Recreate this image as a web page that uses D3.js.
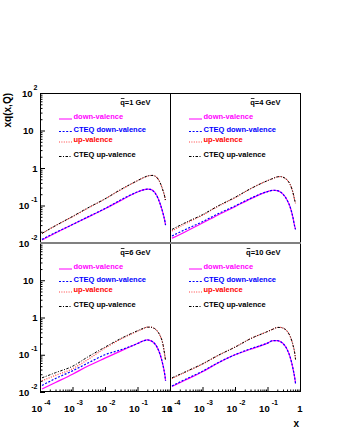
<!DOCTYPE html>
<html>
<head>
<meta charset="utf-8">
<script src="https://cdn.jsdelivr.net/npm/d3@7"></script>
<style>
body { margin: 0; background: #fff; }
text { font-family: "Liberation Sans", Arial, sans-serif; font-weight: bold; }
</style>
</head>
<body>
<svg id="chart" width="340" height="440"></svg>
<script>
// x grid the curves were read at
const xValues = [1.15e-4, 3e-4, 1e-3, 3e-3, 1e-2, 3e-2, 0.1, 0.15, 0.2, 0.25, 0.3, 0.4, 0.5, 0.6, 0.7, 0.73];

const seriesNames = ['down-valence', 'CTEQ down-valence', 'up-valence', 'CTEQ up-valence'];
const scaleLabels = ['1', '4', '6', '10'];

// q = 1 GeV
const downQ1 = [0.012, 0.0184, 0.031, 0.049, 0.082, 0.135, 0.23, 0.26, 0.275, 0.27, 0.25, 0.18, 0.11, 0.065, 0.037, 0.030];
const cteqDownQ1 = [0.0125, 0.019, 0.031, 0.05, 0.083, 0.14, 0.23, 0.26, 0.272, 0.268, 0.245, 0.175, 0.11, 0.065, 0.037, 0.030];
const upQ1 = [0.018, 0.029, 0.050, 0.085, 0.15, 0.26, 0.46, 0.55, 0.60, 0.63, 0.635, 0.55, 0.40, 0.26, 0.16, 0.13];
const cteqUpQ1 = [0.018, 0.029, 0.051, 0.087, 0.15, 0.265, 0.46, 0.55, 0.61, 0.635, 0.63, 0.55, 0.40, 0.26, 0.16, 0.13];

// q = 4 GeV
const downQ4 = [0.0134, 0.020, 0.034, 0.056, 0.093, 0.15, 0.235, 0.255, 0.25, 0.23, 0.2, 0.14, 0.09, 0.05, 0.026, 0.023];
const cteqDownQ4 = [0.0154, 0.023, 0.037, 0.06, 0.097, 0.155, 0.235, 0.255, 0.25, 0.23, 0.2, 0.14, 0.09, 0.05, 0.026, 0.023];
const upQ4 = [0.021, 0.033, 0.055, 0.095, 0.16, 0.28, 0.46, 0.53, 0.58, 0.59, 0.57, 0.48, 0.36, 0.23, 0.13, 0.115];
const cteqUpQ4 = [0.023, 0.035, 0.057, 0.097, 0.165, 0.28, 0.46, 0.53, 0.58, 0.59, 0.57, 0.48, 0.36, 0.23, 0.13, 0.115];

// q = 6 GeV
const downQ6 = [0.012, 0.018, 0.030, 0.05, 0.081, 0.125, 0.20, 0.235, 0.25, 0.24, 0.22, 0.16, 0.1, 0.055, 0.027, 0.02];
const cteqDownQ6 = [0.015, 0.023, 0.037, 0.06, 0.10, 0.135, 0.20, 0.235, 0.25, 0.24, 0.22, 0.16, 0.1, 0.055, 0.027, 0.02];
const upQ6 = [0.020, 0.028, 0.042, 0.075, 0.15, 0.26, 0.43, 0.50, 0.55, 0.55, 0.53, 0.44, 0.32, 0.2, 0.09, 0.07];
const cteqUpQ6 = [0.024, 0.033, 0.049, 0.088, 0.16, 0.27, 0.44, 0.51, 0.55, 0.55, 0.53, 0.44, 0.32, 0.2, 0.09, 0.07];

// q = 10 GeV
const downQ10 = [0.014, 0.021, 0.035, 0.06, 0.10, 0.14, 0.205, 0.24, 0.24, 0.225, 0.2, 0.14, 0.085, 0.045, 0.022, 0.017];
const cteqDownQ10 = [0.0145, 0.022, 0.036, 0.061, 0.10, 0.145, 0.205, 0.24, 0.24, 0.225, 0.2, 0.14, 0.085, 0.045, 0.022, 0.017];
const upQ10 = [0.023, 0.034, 0.056, 0.095, 0.16, 0.27, 0.42, 0.49, 0.54, 0.54, 0.52, 0.43, 0.31, 0.19, 0.10, 0.074];
const cteqUpQ10 = [0.024, 0.035, 0.057, 0.096, 0.16, 0.27, 0.42, 0.49, 0.54, 0.54, 0.52, 0.43, 0.31, 0.19, 0.10, 0.074];

const xTickExponents = [-4, -3, -2, -1, 0];
const yTickExponents = [-2, -1, 0, 1, 2];

// Line looks, same order as seriesNames.
const seriesStyles = [
    {color: '#ff00ff', text: '#ff00ff', dash: null, width: 1.2},
    {color: '#0000ff', text: '#0000ff', dash: '2,1.6', width: 1.2},
    {color: '#ff4040', text: '#ff0000', dash: '1,1.4', width: 1.2},
    {color: '#000000', text: '#000000', dash: '2.5,1.5,1,1.5', width: 1}
];

const panels = [
    {label: scaleLabels[0], col: 0, row: 0, series: [downQ1, cteqDownQ1, upQ1, cteqUpQ1]},
    {label: scaleLabels[1], col: 1, row: 0, series: [downQ4, cteqDownQ4, upQ4, cteqUpQ4]},
    {label: scaleLabels[2], col: 0, row: 1, series: [downQ6, cteqDownQ6, upQ6, cteqUpQ6]},
    {label: scaleLabels[3], col: 1, row: 1, series: [downQ10, cteqDownQ10, upQ10, cteqUpQ10]}
];

const panelLefts = [40, 170];
const panelTops = [93, 243];
const panelWidth = 130;
const panelHeights = [150, 149];

const svg = d3.select('#chart');
svg.append('rect').attr('width', 340).attr('height', 440).attr('fill', '#fff');

/**
 * Minor tick values (2..9 x 10^n) between two decades.
 */
function minorTicks(lo, hi) {
    const ticks = [];
    for (let e = lo; e < hi; e++) {
        for (let m = 2; m <= 9; m++) ticks.push(m * Math.pow(10, e));
    }
    return ticks;
}

/**
 * Write a 10^n tick label with the exponent as a raised tspan.
 */
function powerLabel(sel, e, supSize) {
    if (e === 0) {
        sel.text('1');
        return;
    }
    sel.append('tspan').text('10');
    if (e !== 1) {
        sel.append('tspan')
            .attr('dy', -7)
            .attr('dx', e < 0 ? 2 : 1)
            .attr('font-size', supSize)
            .text(String(e));
    }
}

/**
 * Draw one panel: curves, frame, legend, ticks and tick labels.
 */
function drawPanel(panel) {
    const left = panelLefts[panel.col];
    const top = panelTops[panel.row];
    const height = panelHeights[panel.row];
    const bottom = top + height;
    const right = left + panelWidth;

    const x = d3.scaleLog().domain([1e-4, 1]).range([left, right]);
    const y = d3.scaleLog().domain([1e-2, 1e2]).range([bottom, top]);

    const g = svg.append('g');

    const line = d3.line()
        .x(d => x(d[0]))
        .y(d => y(d[1]))
        .curve(d3.curveMonotoneX);

    panel.series.forEach(function(values, i) {
        const style = seriesStyles[i];
        g.append('path')
            .attr('d', line(xValues.map((xv, k) => [xv, values[k]])))
            .attr('fill', 'none')
            .attr('stroke', style.color)
            .attr('stroke-width', style.width)
            .attr('stroke-dasharray', style.dash);
    });

    // Frame
    g.append('rect')
        .attr('x', left + 0.5)
        .attr('y', top + 0.5)
        .attr('width', panelWidth)
        .attr('height', height - 1)
        .attr('fill', 'none')
        .attr('stroke', '#000')
        .attr('stroke-width', 1);

    // Scale label, with a bar over the q
    const title = g.append('text')
        .attr('x', right - 19.5)
        .attr('y', top + 12)
        .attr('text-anchor', 'end')
        .attr('font-size', 7.5)
        .text('q=' + panel.label + ' GeV');
    const tb = title.node().getBBox();
    const qWidth = title.node().getSubStringLength(0, 1);
    g.append('line')
        .attr('x1', tb.x + 0.6).attr('x2', tb.x + qWidth - 0.4)
        .attr('y1', top + 5.5).attr('y2', top + 5.5)
        .attr('stroke', '#000').attr('stroke-width', 0.8);

    // Legend
    const rowOffsets = [26, 38.5, 49, 63.5];
    seriesNames.forEach(function(name, i) {
        const style = seriesStyles[i];
        const ly = top + rowOffsets[i];
        g.append('line')
            .attr('x1', left + 19).attr('x2', left + 32)
            .attr('y1', ly).attr('y2', ly)
            .attr('stroke', style.color)
            .attr('stroke-width', 1)
            .attr('stroke-dasharray', style.dash);
        g.append('text')
            .attr('x', left + 33.5)
            .attr('y', ly)
            .attr('font-size', 7.5)
            .attr('fill', style.text)
            .text(name);
    });

    // Left axis ticks and labels (left column only)
    if (panel.col === 0) {
        const yAxisG = g.append('g').attr('transform', 'translate(' + left + ',0)');
        yAxisG.append('g')
            .call(d3.axisRight(y).tickValues(yTickExponents.map(e => Math.pow(10, e))).tickSize(5).tickFormat(''))
            .call(s => s.select('.domain').remove());
        yAxisG.append('g')
            .call(d3.axisRight(y).tickValues(minorTicks(-2, 2)).tickSize(2.5).tickFormat(''))
            .call(s => s.select('.domain').remove());
        yAxisG.selectAll('.tick line').attr('stroke', '#000');

        yTickExponents.forEach(function(e) {
            if (panel.row === 1 && e === 2) return;
            const t = g.append('text')
                .attr('x', e === 1 ? 33.5 : 37.5)
                .attr('y', y(Math.pow(10, e)) + 3.5)
                .attr('text-anchor', 'end')
                .attr('font-size', 9.5);
            powerLabel(t, e, 7);
        });
    }

    // Bottom axis ticks and labels (bottom row only)
    if (panel.row === 1) {
        const xAxisG = g.append('g').attr('transform', 'translate(0,' + bottom + ')');
        xAxisG.append('g')
            .call(d3.axisTop(x).tickValues(xTickExponents.map(e => Math.pow(10, e))).tickSize(5).tickFormat(''))
            .call(s => s.select('.domain').remove());
        xAxisG.append('g')
            .call(d3.axisTop(x).tickValues(minorTicks(-4, 0)).tickSize(2.5).tickFormat(''))
            .call(s => s.select('.domain').remove());
        xAxisG.selectAll('.tick line').attr('stroke', '#000');

        xTickExponents.forEach(function(e) {
            const t = g.append('text')
                .attr('x', x(Math.pow(10, e)) + (e === 0 ? 0 : 1))
                .attr('y', bottom + 20)
                .attr('text-anchor', 'middle')
                .attr('font-size', 9.5);
            powerLabel(t, e, 7);
        });
    }
}

panels.forEach(drawPanel);

// Seam between the upper and lower rows
svg.append('line')
    .attr('x1', panelLefts[0]).attr('x2', panelLefts[1] + panelWidth + 1)
    .attr('y1', panelTops[1]).attr('y2', panelTops[1])
    .attr('stroke', '#808080').attr('stroke-width', 2);

// Axis titles
svg.append('text')
    .attr('transform', 'translate(10.5,' + panelTops[0] + ') rotate(-90)')
    .attr('text-anchor', 'end')
    .attr('font-size', 10)
    .text('xq(x,Q)');

svg.append('text')
    .attr('x', 299)
    .attr('y', 427)
    .attr('text-anchor', 'end')
    .attr('font-size', 10)
    .text('x');
</script>
</body>
</html>
